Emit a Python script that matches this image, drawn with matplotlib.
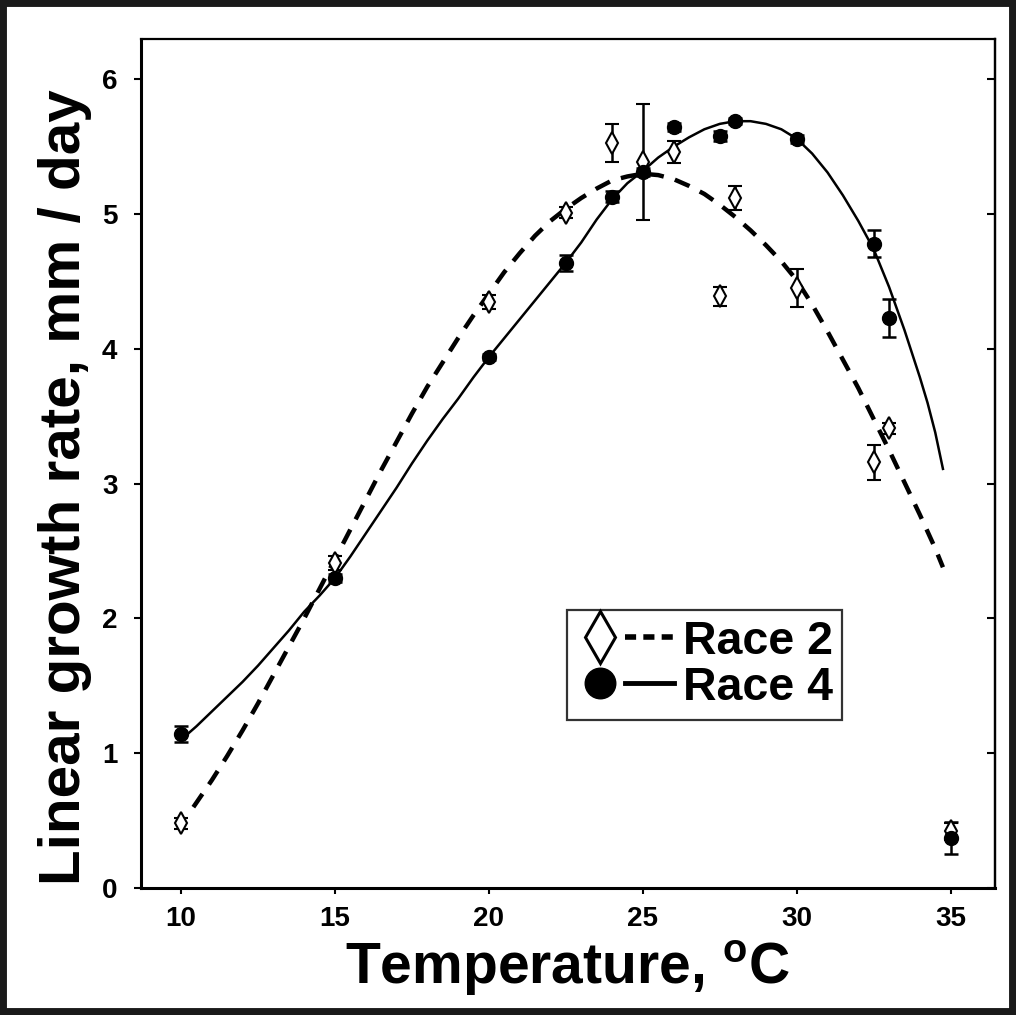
import matplotlib
matplotlib.use("Agg")
import matplotlib.pyplot as plt
from matplotlib.lines import Line2D
from matplotlib.legend_handler import HandlerTuple
from matplotlib.patches import Rectangle

plt.rcParams['font.family'] = ['Liberation Sans', 'DejaVu Sans']
plt.rcParams['font.weight'] = 'bold'
plt.rcParams['mathtext.fontset'] = 'custom'
plt.rcParams['mathtext.rm'] = 'Liberation Sans:bold'
plt.rcParams['mathtext.bf'] = 'Liberation Sans:bold'

# ---- data ----
temps = [10, 15, 20, 22.5, 24, 25, 26, 27.5, 28, 30, 32.5, 33, 35]
race2 = [0.48, 2.41, 4.35, 5.01, 5.53, 5.39, 5.46, 4.39, 5.12, 4.45, 3.16, 3.41, 0.42]
race2_err = [0.04, 0.05, 0.05, 0.04, 0.14, 0.43, 0.08, 0.07, 0.09, 0.14, 0.13, 0.04, 0.06]
race4 = [1.14, 2.30, 3.94, 4.64, 5.13, 5.31, 5.65, 5.58, 5.69, 5.56, 4.78, 4.23, 0.37]
race4_err = [0.06, 0.03, 0.02, 0.06, 0.04, 0.03, 0.03, 0.04, 0.02, 0.03, 0.10, 0.14, 0.12]

# fitted curves as drawn in the reference (read every 0.5 degC)
fit2_x = [10.4, 11, 11.5, 12, 12.5, 13, 13.5, 14, 14.5, 15, 15.5, 16, 16.5, 17, 17.5,
          18, 18.5, 19, 19.5, 20, 20.5, 21, 21.5, 22, 22.5, 23, 23.5, 24, 24.5, 25,
          25.5, 26, 26.5, 27, 27.5, 28, 28.5, 29, 29.5, 30, 30.5, 31, 31.5, 32, 32.5,
          33, 33.5, 34, 34.5, 34.75]
fit2_y = [0.60, 0.80, 0.98, 1.17, 1.37, 1.58, 1.79, 2.00, 2.22, 2.44, 2.66, 2.88, 3.10,
          3.31, 3.52, 3.72, 3.90, 4.08, 4.25, 4.41, 4.57, 4.71, 4.84, 4.95, 5.04, 5.12,
          5.19, 5.25, 5.28, 5.30, 5.29, 5.26, 5.21, 5.15, 5.07, 4.98, 4.88, 4.77, 4.65,
          4.51, 4.33, 4.13, 3.92, 3.71, 3.48, 3.25, 3.01, 2.77, 2.52, 2.38]
fit4_x = [10, 10.5, 11, 11.5, 12, 12.5, 13, 13.5, 14, 14.5, 15, 15.5, 16, 16.5, 17, 17.5,
          18, 18.5, 19, 19.5, 20, 20.5, 21, 21.5, 22, 22.5, 23, 23.5, 24, 24.5, 25,
          25.5, 26, 26.5, 27, 27.5, 28, 28.5, 29, 29.5, 30, 30.5, 31, 31.5, 32, 32.5,
          33, 33.5, 34, 34.25, 34.5, 34.75]
fit4_y = [1.10, 1.20, 1.31, 1.42, 1.53, 1.65, 1.78, 1.91, 2.05, 2.17, 2.30, 2.46, 2.63,
          2.80, 2.97, 3.15, 3.32, 3.48, 3.63, 3.79, 3.94, 4.08, 4.22, 4.36, 4.50, 4.64,
          4.79, 4.96, 5.11, 5.23, 5.32, 5.42, 5.50, 5.57, 5.63, 5.67, 5.69, 5.69, 5.67,
          5.63, 5.56, 5.45, 5.31, 5.14, 4.95, 4.74, 4.46, 4.14, 3.79, 3.60, 3.38, 3.11]

xticks = [10, 15, 20, 25, 30, 35]
yticks = [0, 1, 2, 3, 4, 5, 6]

fig = plt.figure(figsize=(10.16, 10.15), dpi=100)
ax = fig.add_axes([0.1388, 0.1251, 0.979 - 0.1388, 0.9616 - 0.1251])

ax.plot(fit2_x, fit2_y, color='black', lw=3.2, linestyle=(0, (3.6, 2.6)),
        dash_capstyle='butt', zorder=2)
ax.plot(fit4_x, fit4_y, color='black', lw=1.8, zorder=2)

ax.errorbar(temps, race2, yerr=race2_err, fmt='d', color='black', mfc='white',
            mec='black', mew=1.5, ms=11, ecolor='black', elinewidth=1.8,
            capsize=5, capthick=1.8, zorder=3)
ax.errorbar(temps, race4, yerr=race4_err, fmt='o', color='black', mfc='black',
            mec='black', ms=10, ecolor='black', elinewidth=1.8,
            capsize=5, capthick=1.8, zorder=3)

ax.set_xlim(8.7, 36.43)
ax.set_ylim(0, 6.3)
ax.set_xticks(xticks)
ax.set_yticks(yticks)
ax.tick_params(axis='both', labelsize=20, width=1.5)
ax.tick_params(axis='x', direction='out', length=4, pad=9)
ax.tick_params(axis='y', direction='out', length=5, pad=12, right=False)
for lbl in ax.get_xticklabels() + ax.get_yticklabels():
    lbl.set_fontweight('bold')
# right ticks inward
ax2 = ax.secondary_yaxis('right')
ax2.set_yticks(yticks)
ax2.tick_params(direction='in', length=6, width=1.5, labelright=False)

for side in ['left', 'bottom']:
    ax.spines[side].set_linewidth(2.2)
for side in ['top', 'right']:
    ax.spines[side].set_linewidth(1.6)
ax2.spines['right'].set_linewidth(1.6)

ax.set_xlabel(r'Temperature, $^{\mathbf{o}}$C', fontsize=41, fontweight='bold', labelpad=5)
ax.set_ylabel('Linear growth rate, mm / day', fontsize=42, fontweight='bold')
ax.yaxis.set_label_coords(-0.0574, 0.4717)

h2m = Line2D([], [], marker='d', ms=26, mfc='white', mec='black', mew=2.2, ls='none')
h2l = Line2D([], [], color='black', lw=4, linestyle=(0, (2.0, 1.3)))
h4m = Line2D([], [], marker='o', ms=22, mfc='black', mec='black', ls='none')
h4l = Line2D([], [], color='black', lw=3.5)
leg = ax.legend([(h2m, h2l), (h4m, h4l)], ['Race 2', 'Race 4'],
                handler_map={tuple: HandlerTuple(ndivide=2, pad=0.0)},
                loc='upper left', bbox_to_anchor=(0.4986, 0.328),
                prop={'size': 33.5, 'weight': 'bold'}, frameon=True, fancybox=False,
                edgecolor='black', handlelength=2.1, handletextpad=0.2,
                labelspacing=0.02, borderpad=0.2, borderaxespad=0, handleheight=0.9)
leg.get_frame().set_linewidth(1.6)

fig.patches.append(Rectangle((0, 0), 1, 1, transform=fig.transFigure, fill=False,
                             edgecolor='#1a1a1a', linewidth=10, zorder=10))

fig.savefig('out.png', dpi=100)
